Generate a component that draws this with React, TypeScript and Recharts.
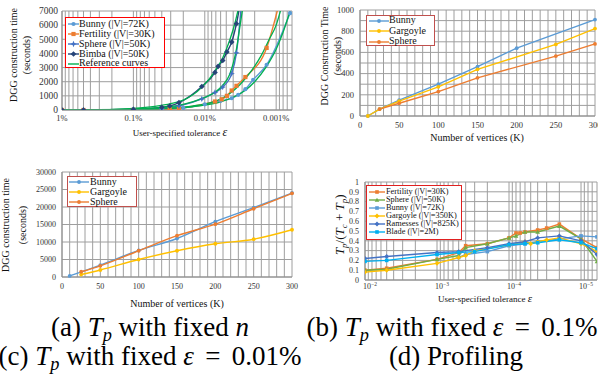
import React from 'react'
import { LineChart, Line, XAxis, YAxis, CartesianGrid } from 'recharts'

const SERIF = '"Liberation Serif", "Times New Roman", Times, serif'
const GRID = '#9e9e9e'
const AXIS = '#8c8c8c'
const TICK = '#333'

const BLUE = '#5B9BD5'
const ORANGE = '#ED7D31'
const MIDBLUE = '#4472C4'
const NAVY = '#264478'
const YELLOW = '#FFC000'
const GREEN = '#70AD47'
const REFGREEN = '#00B050'
const CYAN = '#00B0F0'

type Pt = [number, number]
type Shape = 'circle' | 'square' | 'diamond' | 'triangle' | 'star' | 'none'

// ---- (a) T_p with fixed n : tolerance (%) vs seconds
const aBunny: Pt[] = [[1, 0], [0.5, 0], [0.1, 20], [0.04, 60], [0.02, 150], [0.01, 400], [0.006, 650], [0.0042, 830], [0.0034, 1070], [0.0027, 1470], [0.0021, 2140], [0.00136, 3200], [0.00064, 6850]]
const aFertility: Pt[] = [[1, 0], [0.5, 0], [0.1, 0], [0.031, 50], [0.023, 120], [0.0072, 600], [0.0058, 760], [0.0049, 1000], [0.0042, 1380], [0.0036, 1710], [0.0027, 2330], [0.00136, 4390], [0.0009, 7600]]
const aSphere: Pt[] = [[1, 0], [0.5, 0], [0.1, 30], [0.04, 120], [0.023, 285], [0.011, 780], [0.0072, 1240], [0.0056, 1620], [0.0042, 2570], [0.0036, 4040], [0.003, 8000]]
const aBimba: Pt[] = [[1, 0], [0.5, 0], [0.1, 50], [0.04, 190], [0.031, 285], [0.023, 520], [0.011, 1660], [0.0072, 2660], [0.0065, 3090], [0.0056, 3500], [0.0049, 4100], [0.0042, 4800], [0.0036, 6100], [0.0032, 7500]]
const aRef1: Pt[] = [[1, 0], [0.5, 5], [0.1, 120], [0.05, 260], [0.03, 450], [0.02, 700], [0.011, 1600], [0.0072, 2750], [0.0056, 3700], [0.0045, 4900], [0.0038, 6100], [0.0033, 7400]]
const aRef2: Pt[] = [[1, 0], [0.5, 3], [0.1, 60], [0.04, 180], [0.02, 400], [0.011, 800], [0.0072, 1250], [0.0056, 1750], [0.0045, 2500], [0.004, 3300], [0.0036, 4300], [0.0032, 6000], [0.0029, 7400]]
const aRef3: Pt[] = [[1, 0], [0.1, 40], [0.03, 130], [0.015, 280], [0.01, 420], [0.0065, 700], [0.0045, 1150], [0.0032, 1800], [0.0022, 2800], [0.0016, 3900], [0.00125, 5000], [0.001, 6000], [0.00085, 7200]]
const aRef4: Pt[] = [[1, 0], [0.1, 30], [0.03, 110], [0.015, 230], [0.01, 340], [0.006, 580], [0.004, 900], [0.0027, 1400], [0.002, 2000], [0.0014, 3000], [0.001, 4300], [0.0008, 5500], [0.00062, 7200]]
const aXTicks = [1, 0.9, 0.8, 0.7, 0.6, 0.5, 0.4, 0.3, 0.2, 0.1, 0.09, 0.08, 0.07, 0.06, 0.05, 0.04, 0.03, 0.02, 0.01, 0.009, 0.008, 0.007, 0.006, 0.005, 0.004, 0.003, 0.002, 0.001, 0.0009, 0.0008, 0.0007, 0.0006]
const aDecades = [1, 0.1, 0.01, 0.001]
const aDecadeLabels = ['1%', '0.1%', '0.01%', '0.001%']
const aYTicks = [0, 1000, 2000, 3000, 4000, 5000, 6000, 7000]

// ---- (b) T_p with fixed eps = 0.1% : vertices (K) vs seconds
const bBunny: Pt[] = [[10, 0], [25, 65], [50, 150], [100, 300], [150, 465], [200, 640], [300, 910]]
const bGargoyle: Pt[] = [[10, 0], [25, 65], [50, 140], [100, 275], [150, 440], [250, 675], [300, 825]]
const bSphere: Pt[] = [[25, 65], [50, 120], [100, 230], [150, 360], [250, 565], [300, 680]]
const bYTicks = [0, 100, 200, 300, 400, 500, 600, 700, 800, 900, 1000]
const bYLabels = [0, 200, 400, 600, 800, 1000]

// ---- (c) T_p with fixed eps = 0.01%
const cBunny: Pt[] = [[10, 300], [50, 3400], [100, 7600], [150, 11000], [200, 15800], [250, 19800], [300, 24000]]
const cGargoyle: Pt[] = [[25, 700], [50, 2000], [100, 5000], [150, 7500], [200, 9500], [250, 10800], [300, 13500]]
const cSphere: Pt[] = [[25, 1500], [50, 3200], [100, 7500], [150, 11800], [200, 15100], [250, 19500], [300, 23900]]
const cYTicks = [0, 5000, 10000, 15000, 20000, 25000, 30000]

const vertTicks = [0, 10, 20, 30, 40, 50, 60, 70, 80, 90, 100, 110, 120, 130, 140, 150, 160, 170, 180, 190, 200, 210, 220, 230, 240, 250, 260, 270, 280, 290, 300]
const vertLabels = [0, 50, 100, 150, 200, 250, 300]

// ---- (d) Profiling : tolerance vs Tp/(Tc+Tp)
const dFertility: Pt[] = [[0.01, 0.1], [0.005, 0.12], [0.001, 0.21], [0.0005, 0.28], [0.0004, 0.35], [0.0002, 0.37], [0.0001, 0.43], [0.00008, 0.48], [0.00007, 0.48], [0.00006, 0.49], [0.00004, 0.51], [0.00003, 0.53], [0.00002, 0.57], [0.00001, 0.42], [0.000006, 0.33]]
const dSphere: Pt[] = [[0.01, 0.1], [0.005, 0.11], [0.001, 0.21], [0.0005, 0.25], [0.0004, 0.33], [0.0002, 0.37], [0.0001, 0.43], [0.00008, 0.45], [0.00006, 0.49], [0.00004, 0.49], [0.00002, 0.55], [0.00001, 0.42], [0.000006, 0.19]]
const dBunny: Pt[] = [[0.0005, 0.23], [0.0004, 0.26], [0.0002, 0.29], [0.0001, 0.35], [0.00006, 0.37], [0.00004, 0.39], [0.00002, 0.42], [0.00001, 0.45], [0.000006, 0.44]]
const dGargoyle: Pt[] = [[0.01, 0.08], [0.005, 0.1], [0.001, 0.17], [0.0005, 0.23], [0.0004, 0.25], [0.0003, 0.3], [0.0001, 0.36], [0.00006, 0.39], [0.00005, 0.37], [0.00004, 0.39], [0.00003, 0.41], [0.00002, 0.43], [0.00001, 0.37], [0.000006, 0.29]]
const dRamesses: Pt[] = [[0.01, 0.22], [0.005, 0.24], [0.001, 0.28], [0.0005, 0.29], [0.0002, 0.33], [0.0001, 0.37], [0.00006, 0.39], [0.00004, 0.43], [0.00002, 0.45], [0.00001, 0.4], [0.000006, 0.26]]
const dBlade: Pt[] = [[0.01, 0.19], [0.005, 0.2], [0.001, 0.26], [0.0005, 0.28], [0.0003, 0.29], [0.0001, 0.36], [0.00006, 0.37], [0.00004, 0.38], [0.00002, 0.41], [0.00001, 0.38], [0.000006, 0.32]]
const dXTicks = [0.01, 0.009, 0.008, 0.007, 0.006, 0.005, 0.004, 0.003, 0.002, 0.001, 0.0009, 0.0008, 0.0007, 0.0006, 0.0005, 0.0004, 0.0003, 0.0002, 0.0001, 0.00009, 0.00008, 0.00007, 0.00006, 0.00005, 0.00004, 0.00003, 0.00002, 0.00001, 0.000009, 0.000008, 0.000007, 0.000006]
const dDecades = [0.01, 0.001, 0.0001, 0.00001]
const dDecadeExp = ['\u22122', '\u22123', '\u22124', '\u22125']
const dYTicks = [0, 0.1, 0.2, 0.3, 0.4, 0.5, 0.6, 0.7, 0.8, 0.9, 1]

interface SeriesDef { name: string; data: Pt[]; color: string; shape: Shape; w?: number }

const aSeries: SeriesDef[] = [
  { name: 'Bunny (|V|=72K)', data: aBunny, color: BLUE, shape: 'circle' },
  { name: 'Fertility (|V|=30K)', data: aFertility, color: ORANGE, shape: 'square' },
  { name: 'Sphere (|V|=50K)', data: aSphere, color: MIDBLUE, shape: 'star' },
  { name: 'Bimba (|V|=50K)', data: aBimba, color: NAVY, shape: 'diamond' },
]
const aRefs: Pt[][] = [aRef1, aRef2, aRef3, aRef4]
const bSeries: SeriesDef[] = [
  { name: 'Bunny', data: bBunny, color: BLUE, shape: 'circle' },
  { name: 'Gargoyle', data: bGargoyle, color: YELLOW, shape: 'circle' },
  { name: 'Sphere', data: bSphere, color: ORANGE, shape: 'circle' },
]
const cSeries: SeriesDef[] = [
  { name: 'Bunny', data: cBunny, color: BLUE, shape: 'circle' },
  { name: 'Gargoyle', data: cGargoyle, color: YELLOW, shape: 'circle' },
  { name: 'Sphere', data: cSphere, color: ORANGE, shape: 'circle' },
]
const dSeries: SeriesDef[] = [
  { name: 'Fertility (|V|=30K)', data: dFertility, color: ORANGE, shape: 'square' },
  { name: 'Sphere (|V|=50K)', data: dSphere, color: GREEN, shape: 'triangle' },
  { name: 'Bunny (|V|=72K)', data: dBunny, color: BLUE, shape: 'square' },
  { name: 'Gargoyle (|V|=350K)', data: dGargoyle, color: YELLOW, shape: 'diamond' },
  { name: 'Ramesses (|V|=825K)', data: dRamesses, color: MIDBLUE, shape: 'diamond' },
  { name: 'Blade (|V|=2M)', data: dBlade, color: CYAN, shape: 'square' },
]

const pts = (a: Pt[]) => a.map(([x, y]) => ({ x, y }))
const near = (v: number, list: number[]) => list.findIndex((d) => Math.abs(v / d - 1) < 1e-6)

function Mark({ cx, cy, shape, color, s = 2.1 }: { cx: number; cy: number; shape: Shape; color: string; s?: number }) {
  if (cx == null || cy == null || isNaN(cx) || isNaN(cy)) return null
  if (shape === 'circle') return <circle cx={cx} cy={cy} r={s} fill={color} />
  if (shape === 'square') return <rect x={cx - s} y={cy - s} width={2 * s} height={2 * s} fill={color} />
  if (shape === 'diamond') {
    const k = s * 1.35
    return <path d={`M${cx},${cy - k}L${cx + k},${cy}L${cx},${cy + k}L${cx - k},${cy}Z`} fill={color} />
  }
  if (shape === 'triangle') {
    const k = s * 1.3
    return <path d={`M${cx},${cy - k}L${cx + k},${cy + k * 0.8}L${cx - k},${cy + k * 0.8}Z`} fill={color} />
  }
  if (shape === 'star') {
    const k = s * 1.5
    const q = s * 0.45
    return <path d={`M${cx},${cy - k}L${cx + q},${cy - q}L${cx + k},${cy}L${cx + q},${cy + q}L${cx},${cy + k}L${cx - q},${cy + q}L${cx - k},${cy}L${cx - q},${cy - q}Z`} fill={color} />
  }
  return null
}

const dotFor = (shape: Shape, color: string, s?: number) => (p: any) => (
  <Mark key={`m${p.index}`} cx={p.cx} cy={p.cy} shape={shape} color={color} s={s} />
)

function series(s: SeriesDef, i: number, curve: 'monotone' | 'linear', ms?: number) {
  return (
    <Line
      key={s.name + i}
      data={pts(s.data)}
      dataKey="y"
      type={curve}
      stroke={s.color}
      strokeWidth={s.w ?? 1.4}
      dot={s.shape === 'none' ? false : dotFor(s.shape, s.color, ms)}
      activeDot={false}
      isAnimationActive={false}
    />
  )
}

const yTick = (fs: number, gap: number, show?: number[]) => (p: any) => {
  const v = p.payload.value
  if (show && !show.includes(v)) return <g />
  return (
    <text x={p.x - gap} y={p.y} dy={fs * 0.34} textAnchor="end" fontSize={fs} fontFamily={SERIF} fill={TICK}>
      {v}
    </text>
  )
}

const xTickLin = (fs: number, off: number, show: number[]) => (p: any) => {
  const v = p.payload.value
  if (!show.includes(v)) return <g />
  return (
    <text x={p.x} y={p.y + off} textAnchor="middle" fontSize={fs} fontFamily={SERIF} fill={TICK}>
      {v}
    </text>
  )
}

const aXTick = (p: any) => {
  const i = near(p.payload.value, aDecades)
  if (i < 0) return <g />
  return (
    <text x={p.x} y={p.y + 11} textAnchor="middle" fontSize={8.5} fontFamily={SERIF} fill={TICK}>
      {aDecadeLabels[i]}
    </text>
  )
}

const dXTick = (p: any) => {
  const i = near(p.payload.value, dDecades)
  if (i < 0) return <g />
  return (
    <text x={p.x + 5} y={p.y + 9} textAnchor="middle" fontSize={8} fontFamily={SERIF} fill={TICK}>
      <tspan>10</tspan>
      <tspan dy={-3.5} fontSize={5.5}>{dDecadeExp[i]}</tspan>
    </text>
  )
}

function SampleSvg({ w, color, shape, ms }: { w: number; color: string; shape: Shape; ms: number }) {
  return (
    <svg width={w} height={8} style={{ position: 'absolute', left: 0, top: -4 }}>
      <line x1={0} y1={4} x2={w} y2={4} stroke={color} strokeWidth={1.4} />
      <Mark cx={w / 2} cy={4} shape={shape} color={color} s={ms} />
    </svg>
  )
}

interface LegendProps {
  left: number; top: number; width: number; height: number; border: string
  rows: number[]; sx: number; sw: number; tx: number; fs: number; ms: number
  items: { name: string; color: string; shape: Shape }[]
}

function LegendBox(p: LegendProps) {
  return (
    <div style={{ position: 'absolute', left: p.left, top: p.top, width: p.width, height: p.height, border: `1px solid ${p.border}`, boxSizing: 'border-box', background: '#fff' }}>
      {p.items.map((it, i) => (
        <div key={it.name} style={{ position: 'absolute', left: 0, top: p.rows[i], width: '100%' }}>
          <div style={{ position: 'absolute', left: p.sx }}>
            <SampleSvg w={p.sw} color={it.color} shape={it.shape} ms={p.ms} />
          </div>
          <div style={{ position: 'absolute', left: p.tx, top: -p.fs * 0.62, fontSize: p.fs, lineHeight: `${p.fs * 1.2}px`, whiteSpace: 'nowrap', color: '#111', fontFamily: SERIF }}>
            {it.name}
          </div>
        </div>
      ))}
    </div>
  )
}

function RotLabel({ cx, cy, lines, fs }: { cx: number[]; cy: number; lines: React.ReactNode[]; fs: number }) {
  return (
    <>
      {lines.map((l, i) => (
        <div key={i} style={{ position: 'absolute', left: cx[i] - 100, top: cy - fs * 0.6, width: 200, textAlign: 'center', fontSize: fs, lineHeight: `${fs * 1.2}px`, transform: 'rotate(-90deg)', whiteSpace: 'nowrap', color: '#111', fontFamily: SERIF }}>
          {l}
        </div>
      ))}
    </>
  )
}

function AxisTitle({ cx, cy, fs, children }: { cx: number; cy: number; fs: number; children: React.ReactNode }) {
  return (
    <div style={{ position: 'absolute', left: cx - 100, top: cy - fs * 0.6, width: 200, textAlign: 'center', fontSize: fs, lineHeight: `${fs * 1.2}px`, whiteSpace: 'nowrap', color: '#111', fontFamily: SERIF }}>
      {children}
    </div>
  )
}

const sub = (t: string, fs = 0.68) => <span style={{ fontSize: `${fs}em`, verticalAlign: '-0.28em', fontStyle: 'italic', lineHeight: 0 }}>{t}</span>
const it = (t: string) => <span style={{ fontStyle: 'italic' }}>{t}</span>

function Caption({ cx, top, children }: { cx: number; top: number; children: React.ReactNode }) {
  return (
    <div style={{ position: 'absolute', left: cx - 160, top, width: 320, height: 27, textAlign: 'center', fontSize: 27, lineHeight: '27px', whiteSpace: 'nowrap', color: '#000', fontFamily: SERIF }}>
      {children}
    </div>
  )
}

export default function App() {
  const eq = <span style={{ margin: '0 0.42em' }}>=</span>
  return (
    <div style={{ position: 'absolute', left: 0, top: 0, width: 598, height: 376, overflow: 'hidden', background: '#fff', fontFamily: SERIF }}>
      {/* (a) */}
      <div style={{ position: 'absolute', left: 0, top: 0 }}>
        <LineChart width={300} height={140} margin={{ top: 11, right: 8, bottom: 0, left: 0 }}>
          <CartesianGrid stroke={GRID} strokeWidth={1} />
          <XAxis dataKey="x" type="number" scale="log" domain={[0.0006, 1]} reversed allowDataOverflow ticks={aXTicks} interval={0} tick={aXTick} tickSize={0} tickMargin={0} height={30} stroke={AXIS} tickLine={false} />
          <YAxis type="number" domain={[0, 7000]} allowDataOverflow ticks={aYTicks} interval={0} tick={yTick(9.5, 4)} tickSize={0} tickMargin={0} width={62} stroke={AXIS} tickLine={false} />
          {aSeries.map((s, i) => series(s, i, 'monotone'))}
          {aRefs.map((r, i) => series({ name: 'ref' + i, data: r, color: REFGREEN, shape: 'none', w: 1.3 }, i, 'monotone'))}
        </LineChart>
      </div>
      <RotLabel cx={[14, 27]} cy={55} fs={10} lines={['DGG construction time', '(seconds)']} />
      <AxisTitle cx={180} cy={132} fs={9}>
        User-specified tolerance <span style={{ fontStyle: 'italic', fontSize: 12 }}>&epsilon;</span>
      </AxisTitle>
      <LegendBox left={65} top={17} width={100} height={51} border="#FF0000" rows={[6, 16, 26, 36, 45.5]} sx={2} sw={11} tx={13} fs={10} ms={2.1}
        items={[...aSeries.map((s) => ({ name: s.name, color: s.color, shape: s.shape })), { name: 'Reference curves', color: REFGREEN, shape: 'none' as Shape }]} />

      {/* (b) */}
      <div style={{ position: 'absolute', left: 300, top: 0 }}>
        <LineChart width={298} height={140} margin={{ top: 10, right: 3, bottom: 0, left: 0 }}>
          <CartesianGrid stroke={GRID} strokeWidth={1} />
          <XAxis dataKey="x" type="number" domain={[0, 300]} ticks={vertTicks} interval={0} tick={xTickLin(8.5, 12, vertLabels)} tickSize={0} tickMargin={0} height={24} stroke={AXIS} tickLine={false} />
          <YAxis type="number" domain={[0, 1000]} ticks={bYTicks} interval={0} tick={yTick(8.5, 6, bYLabels)} tickSize={0} tickMargin={0} width={60} stroke={AXIS} tickLine={false} />
          {bSeries.map((s, i) => series(s, i, 'linear', 1.9))}
        </LineChart>
      </div>
      <RotLabel cx={[325, 338]} cy={56} fs={10} lines={['DGG Construction Time', '(seconds)']} />
      <AxisTitle cx={477} cy={138} fs={10}>Number of vertices (K)</AxisTitle>
      <LegendBox left={366} top={15} width={69} height={31} border="#C0504D" rows={[4.5, 15, 25.5]} sx={2} sw={20} tx={22} fs={10} ms={1.9}
        items={bSeries.map((s) => ({ name: s.name, color: s.color, shape: s.shape }))} />

      {/* (c) */}
      <div style={{ position: 'absolute', left: 0, top: 160 }}>
        <LineChart width={300} height={140} margin={{ top: 12, right: 8, bottom: 0, left: 0 }}>
          <CartesianGrid stroke={GRID} strokeWidth={1} />
          <XAxis dataKey="x" type="number" domain={[0, 300]} ticks={vertTicks} interval={0} tick={xTickLin(8, 12, vertLabels)} tickSize={0} tickMargin={0} height={23} stroke={AXIS} tickLine={false} />
          <YAxis type="number" domain={[0, 30000]} ticks={cYTicks} interval={0} tick={yTick(8, 6)} tickSize={0} tickMargin={0} width={62} stroke={AXIS} tickLine={false} />
          {cSeries.map((s, i) => series(s, i, 'monotone', 1.9))}
        </LineChart>
      </div>
      <RotLabel cx={[6, 23]} cy={225} fs={10} lines={['DGG construction time', '(seconds)']} />
      <AxisTitle cx={177} cy={304} fs={10}>Number of vertices (K)</AxisTitle>
      <LegendBox left={67} top={176} width={70} height={31} border="#C0504D" rows={[5, 15, 25]} sx={1} sw={20} tx={22} fs={10} ms={1.9}
        items={cSeries.map((s) => ({ name: s.name, color: s.color, shape: s.shape }))} />

      {/* (d) */}
      <div style={{ position: 'absolute', left: 300, top: 160 }}>
        <LineChart width={298} height={140} margin={{ top: 22, right: 1, bottom: 0, left: 0 }}>
          <CartesianGrid stroke={GRID} strokeWidth={1} />
          <XAxis dataKey="x" type="number" scale="log" domain={[0.000006, 0.01]} reversed allowDataOverflow ticks={dXTicks} interval={0} tick={dXTick} tickSize={0} tickMargin={0} height={20} stroke={AXIS} tickLine={false} />
          <YAxis type="number" domain={[0, 1]} ticks={dYTicks} interval={0} tick={yTick(8, 6)} tickSize={0} tickMargin={0} width={65} stroke={AXIS} tickLine={false} />
          {dSeries.map((s, i) => series(s, i, 'linear', 1.8))}
        </LineChart>
      </div>
      <RotLabel cx={[340]} cy={225} fs={13} lines={[<span>{it('T')}{sub('p')}/({it('T')}{sub('c')} + {it('T')}{sub('p')})</span>]} />
      <AxisTitle cx={485} cy={298} fs={9}>
        User-specified tolerance <span style={{ fontStyle: 'italic', fontSize: 11 }}>&epsilon;</span>
      </AxisTitle>
      <LegendBox left={366} top={185} width={96} height={55} border="#E02020" rows={[6, 14, 22, 30, 38, 46]} sx={2} sw={16} tx={19} fs={8.3} ms={1.8}
        items={dSeries.map((s) => ({ name: s.name, color: s.color, shape: s.shape }))} />

      {/* captions */}
      <Caption cx={150} top={314}>(a) {it('T')}{sub('p')} with fixed {it('n')}</Caption>
      <Caption cx={452} top={314}>(b) {it('T')}{sub('p')} with fixed {it('\u03b5')}{eq}0.1%</Caption>
      <Caption cx={150} top={343}>(c) {it('T')}{sub('p')} with fixed {it('\u03b5')}{eq}0.01%</Caption>
      <Caption cx={456} top={343}>(d) Profiling</Caption>
    </div>
  )
}
